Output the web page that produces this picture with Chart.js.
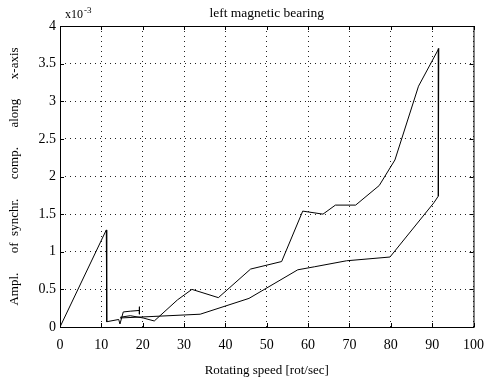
<!DOCTYPE html>
<html>
<head>
<meta charset="utf-8">
<script src="https://cdn.jsdelivr.net/npm/chart.js@4"></script>
<style>
  html, body { margin: 0; padding: 0; background: #fff; }
</style>
</head>
<body>
<canvas id="chart" width="494" height="385"></canvas>
<script>
// rotating speed [rot/sec] and amplitude (x10^-3)
const startSpeed = [0, 11.2, 11.3, 14.2, 14.5, 15.3, 17.0, 19.2, 19.2, 19.2];
const startAmpl  = [0, 1.29, 0.07, 0.10, 0.04, 0.20, 0.21, 0.22, 0.27, 0.17];

const upperSpeed = [14.6, 17.0, 20.1, 22.8, 28.4, 31.9, 38.3, 46.1, 53.6, 58.7, 63.6, 66.6, 71.5, 77.2, 81.0, 86.7, 91.6, 91.5];
const upperAmpl  = [0.13, 0.15, 0.12, 0.08, 0.36, 0.50, 0.39, 0.77, 0.87, 1.54, 1.50, 1.62, 1.62, 1.88, 2.22, 3.20, 3.70, 1.74];

const lowerSpeed = [14.5, 22.5, 33.9, 45.7, 57.5, 61.5, 69.3, 79.8, 90.4, 91.5];
const lowerAmpl  = [0.12, 0.14, 0.17, 0.38, 0.76, 0.80, 0.88, 0.93, 1.65, 1.74];

const xTickStep = 10;
const yTickStep = 0.5;

function toPoints(xs, ys) {
  return xs.map((x, i) => ({ x: x, y: ys[i] }));
}

const serif = "'Liberation Serif', 'Times New Roman', serif";

// box around the axes, inward ticks, title and exponent label
const matlabFrame = {
  id: 'matlabFrame',
  afterDraw(chart) {
    const ctx = chart.ctx;
    const a = chart.chartArea;
    const xs = chart.scales.x, ys = chart.scales.y;
    ctx.save();
    ctx.strokeStyle = '#000';
    ctx.lineWidth = 1;
    ctx.strokeRect(a.left + 0.5, a.top + 0.5, a.right - a.left, a.bottom - a.top);
    ctx.beginPath();
    xs.ticks.forEach(t => {
      const px = Math.round(xs.getPixelForValue(t.value)) + 0.5;
      ctx.moveTo(px, a.bottom); ctx.lineTo(px, a.bottom - 4);
      ctx.moveTo(px, a.top); ctx.lineTo(px, a.top + 4);
    });
    ys.ticks.forEach(t => {
      const py = Math.round(ys.getPixelForValue(t.value)) + 0.5;
      ctx.moveTo(a.left, py); ctx.lineTo(a.left + 4, py);
      ctx.moveTo(a.right, py); ctx.lineTo(a.right - 4, py);
    });
    ctx.stroke();

    ctx.fillStyle = '#000';
    ctx.textBaseline = 'middle';
    ctx.textAlign = 'center';
    ctx.font = '13.5px ' + serif;
    ctx.fillText('left magnetic bearing', (a.left + a.right) / 2, 13);
    ctx.textAlign = 'left';
    ctx.font = '12px ' + serif;
    ctx.fillText('x10', a.left + 5, 15);
    ctx.font = '9px ' + serif;
    ctx.fillText('-3', a.left + 24, 11);
    ctx.restore();
  }
};

new Chart(document.getElementById('chart'), {
  type: 'scatter',
  data: {
    datasets: [
      { data: toPoints(startSpeed, startAmpl) },
      { data: toPoints(upperSpeed, upperAmpl) },
      { data: toPoints(lowerSpeed, lowerAmpl) }
    ].map(d => Object.assign(d, {
      showLine: true,
      borderColor: '#000',
      backgroundColor: '#000',
      borderWidth: 1,
      pointRadius: 0,
      tension: 0
    }))
  },
  options: {
    responsive: false,
    animation: false,
    layout: { padding: { left: 0, right: 11, top: 26, bottom: 0 } },
    plugins: {
      legend: { display: false },
      tooltip: { enabled: false }
    },
    scales: {
      x: {
        type: 'linear',
        min: 0, max: 100,
        afterFit(s) { s.height = 58; },
        ticks: { stepSize: xTickStep, color: '#000', padding: 10, maxRotation: 0,
                 font: { family: serif, size: 14 } },
        grid: { color: '#222', drawTicks: false },
        border: { display: false, dash: [1, 4] },
        title: { display: true, text: 'Rotating speed [rot/sec]', color: '#000',
                 font: { family: serif, size: 13 }, padding: { top: 6, bottom: 7 } }
      },
      y: {
        type: 'linear',
        min: 0, max: 4,
        afterFit(s) { s.width = 60; },
        ticks: { stepSize: yTickStep, color: '#000', padding: 4,
                 font: { family: serif, size: 14 },
                 callback: v => String(v) },
        grid: { color: '#222', drawTicks: false },
        border: { display: false, dash: [1, 4] },
        title: { display: true, text: 'Ampl.      of  synchr.      comp.      along      x-axis', color: '#000',
                 font: { family: serif, size: 13 }, padding: { top: 7, bottom: 0 } }
      }
    }
  },
  plugins: [matlabFrame]
});
</script>
</body>
</html>
